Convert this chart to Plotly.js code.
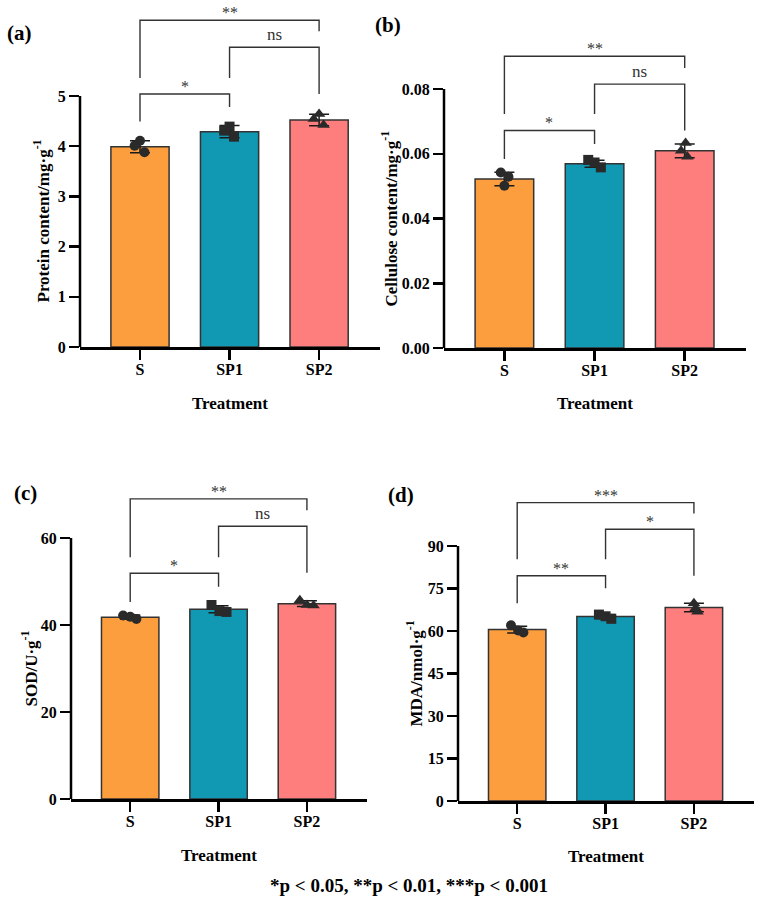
<!DOCTYPE html>
<html><head><meta charset="utf-8">
<script src="https://cdn.plot.ly/plotly-3.0.1.min.js"></script>
<style>html,body{margin:0;padding:0;background:#fff}#chart{width:762px;height:904px}</style>
</head><body><div id="chart"></div>
<script>
// ---------- DATA ----------
const categories = ['S', 'SP1', 'SP2'];

const proteinMean = [3.99, 4.29, 4.52];
const proteinSD = [0.12, 0.12, 0.115];
const proteinPoints = [[4.11, 4.01, 3.88], [4.39, 4.31, 4.19], [4.64, 4.54, 4.42]];
const proteinTicks = [0, 1, 2, 3, 4, 5];
const proteinTickText = ['0', '1', '2', '3', '4', '5'];

const celluloseMean = [0.0522, 0.0569, 0.0609];
const celluloseSD = [0.0021, 0.0011, 0.0021];
const cellulosePoints = [[0.0542, 0.0529, 0.0501], [0.0581, 0.0573, 0.0558], [0.0633, 0.0609, 0.0591]];
const celluloseTicks = [0, 0.02, 0.04, 0.06, 0.08];
const celluloseTickText = ['0.00', '0.02', '0.04', '0.06', '0.08'];

const sodMean = [41.8, 43.6, 44.9];
const sodSD = [0.5, 0.8, 0.65];
const sodPoints = [[42.2, 41.9, 41.4], [44.6, 43.2, 43.0], [45.7, 44.6, 44.5]];
const sodTicks = [0, 20, 40, 60];
const sodTickText = ['0', '20', '40', '60'];

const mdaMean = [60.5, 65.1, 68.3];
const mdaSD = [1.2, 0.7, 1.5];
const mdaPoints = [[62.0, 60.2, 59.5], [65.8, 65.2, 64.3], [69.8, 68.0, 66.8]];
const mdaTicks = [0, 15, 30, 45, 60, 75, 90];
const mdaTickText = ['0', '15', '30', '45', '60', '75', '90'];

const sigProtein = ['*', 'ns', '**'];     // S-SP1, SP1-SP2, S-SP2
const sigCellulose = ['*', 'ns', '**'];
const sigSOD = ['*', 'ns', '**'];
const sigMDA = ['**', '*', '***'];

const footnote = '*p < 0.05, **p < 0.01, ***p < 0.001';

// ---------- STYLE / LAYOUT ----------
const W = 762, H = 904;
const FONT = 'Liberation Serif, Times New Roman, Times, serif';
const barColors = ['#FC9E3D', '#1198B3', '#FE7E7E'];
const symbols = ['circle', 'square', 'triangle-up'];
const pairs = [[0, 1], [1, 2], [0, 2]];

const panels = [
  { letter: '(a)', mean: proteinMean, sd: proteinSD, pts: proteinPoints, ticks: proteinTicks, tickText: proteinTickText, sig: sigProtein,
    ytitle: 'Protein content/mg·g<sup>-1</sup>',
    box: { left: 80, right: 380, zero: 347, tickPx: 96, top: 5 }, titleX: 41, letterXY: [19, 33], treatY: 403,
    jitter: [[0, -0.06, 0.05], [0, -0.06, 0.05], [0, -0.06, 0.05]],
    br: [[5.04, 4.49, 4.78], [5.97, 5.36, 5.04], [6.51, 5.36, 6.29]] },
  { letter: '(b)', mean: celluloseMean, sd: celluloseSD, pts: cellulosePoints, ticks: celluloseTicks, tickText: celluloseTickText, sig: sigCellulose,
    ytitle: 'Cellulose content/mg·g<sup>-1</sup>',
    box: { left: 444, right: 746, zero: 348, tickPx: 89, top: 30 }, titleX: 389, letterXY: [388, 25], treatY: 403,
    jitter: [[-0.04, 0.045, 0], [-0.07, 0, 0.07], [0.01, -0.04, 0.03]],
    br: [[0.0672, 0.0584, 0.063], [0.0815, 0.0723, 0.0672], [0.0901, 0.0723, 0.0865]] },
  { letter: '(c)', mean: sodMean, sd: sodSD, pts: sodPoints, ticks: sodTicks, tickText: sodTickText, sig: sigSOD,
    ytitle: 'SOD/U·g<sup>-1</sup>',
    box: { left: 71, right: 367, zero: 799, tickPx: 538, top: 480 }, titleX: 29, letterXY: [25, 493], treatY: 855,
    jitter: [[-0.08, 0, 0.07], [-0.08, 0.01, 0.09], [-0.08, 0, 0.075]],
    br: [[51.9, 45.3, 48.8], [62.7, 55.6, 52.0], [69.0, 55.6, 66.4]] },
  { letter: '(d)', mean: mdaMean, sd: mdaSD, pts: mdaPoints, ticks: mdaTicks, tickText: mdaTickText, sig: sigMDA,
    ytitle: 'MDA/nmol·g<sup>-1</sup>',
    box: { left: 458, right: 754, zero: 801, tickPx: 546, top: 485 }, titleX: 414, letterXY: [401, 495], treatY: 856,
    jitter: [[-0.07, 0.01, 0.07], [-0.075, 0, 0.065], [0, 0.02, 0.04]],
    br: [[79.5, 69.8, 75.1], [95.9, 85.3, 79.5], [105.3, 85.3, 101.5]] }
];

const data = [];
const layout = {
  width: W, height: H, margin: { l: 0, r: 0, t: 0, b: 0 },
  showlegend: false, paper_bgcolor: '#ffffff', plot_bgcolor: 'rgba(0,0,0,0)',
  font: { family: FONT, color: '#000' },
  shapes: [], annotations: []
};

panels.forEach((p, k) => {
  const n = k === 0 ? '' : String(k + 1);
  const xa = 'x' + n, ya = 'y' + n;
  const b = p.box;
  const maxTick = p.ticks[p.ticks.length - 1];
  const yMax = maxTick * (b.zero - b.top) / (b.zero - b.tickPx);

  layout['xaxis' + n] = {
    domain: [b.left / W, b.right / W], range: [-0.67, 2.68], type: 'linear', anchor: ya,
    tickvals: categories.map((c, i) => i), ticktext: categories,
    ticks: 'outside', ticklen: 10, tickwidth: 2.5, tickcolor: '#000', ticklabelstandoff: -4,
    showline: true, linewidth: 2.5, linecolor: '#000', showgrid: false, zeroline: false,
    tickfont: { family: FONT, size: 16, weight: 'bold', color: '#000' }, fixedrange: true
  };
  layout['yaxis' + n] = {
    domain: [1 - b.zero / H, 1 - b.top / H], range: [0, yMax], anchor: xa,
    tickvals: p.ticks, ticktext: p.tickText,
    ticks: 'outside', ticklen: 10, tickwidth: 2.5, tickcolor: '#000',
    showline: false, showgrid: false, zeroline: false,
    tickfont: { family: FONT, size: 16, weight: 'bold', color: '#000' }, fixedrange: true
  };

  data.push({
    type: 'bar', x: categories.map((c, i) => i), y: p.mean, xaxis: xa, yaxis: ya, width: 0.65,
    marker: { color: barColors, line: { color: '#333', width: 1.5 } },
    error_y: { type: 'data', array: p.sd, visible: true, color: '#1a1a1a', thickness: 1.5, width: 10 },
    hoverinfo: 'skip'
  });
  p.pts.forEach((vals, i) => {
    data.push({
      type: 'scatter', mode: 'markers', xaxis: xa, yaxis: ya, cliponaxis: false,
      x: vals.map((v, j) => i + p.jitter[i][j]), y: vals,
      marker: { symbol: symbols[i], size: i === 2 ? 11 : 10, color: '#2a2a2a' },
      hoverinfo: 'skip'
    });
  });

  layout.shapes.push({ type: 'line', xref: xa + ' domain', yref: ya, x0: 0, x1: 0, y0: 0, y1: maxTick,
    line: { color: '#000', width: 2.5 } });

  pairs.forEach((pr, q) => {
    const [yt, yl, yr] = p.br[q];
    const [i, j] = pr;
    layout.shapes.push({ type: 'path', xref: xa, yref: ya,
      path: `M ${i},${yl} L ${i},${yt} L ${j},${yt} L ${j},${yr}`,
      line: { color: '#333', width: 1.4 } });
    layout.annotations.push({ xref: xa, yref: ya, x: (i + j) / 2, y: yt, yanchor: 'bottom', xanchor: 'center',
      text: p.sig[q], showarrow: false, font: { family: FONT, size: p.sig[q] === 'ns' ? 17 : 16, color: '#333' },
      yshift: p.sig[q] === 'ns' ? 1 : -3 });
  });

  layout.annotations.push({ xref: 'paper', yref: ya, x: p.titleX / W, y: maxTick / 2, xanchor: 'center', yanchor: 'middle',
    textangle: -90, text: p.ytitle, showarrow: false, font: { family: FONT, size: 17, weight: 'bold', color: '#000' } });
  layout.annotations.push({ xref: xa, yref: 'paper', x: 1, y: 1 - p.treatY / H, xanchor: 'center', yanchor: 'middle',
    text: 'Treatment', showarrow: false, font: { family: FONT, size: 17, weight: 'bold', color: '#000' } });
  layout.annotations.push({ xref: 'paper', yref: 'paper', x: p.letterXY[0] / W, y: 1 - p.letterXY[1] / H,
    xanchor: 'center', yanchor: 'middle', text: p.letter, showarrow: false,
    font: { family: FONT, size: 21, weight: 'bold', color: '#000' } });
});

layout.annotations.push({ xref: 'paper', yref: 'paper', x: 409 / W, y: 1 - 885 / H, xanchor: 'center', yanchor: 'middle',
  text: footnote, showarrow: false, font: { family: FONT, size: 19, weight: 'bold', color: '#000' } });

Plotly.newPlot('chart', data, layout, { staticPlot: true, displayModeBar: false });
</script>
</body></html>
